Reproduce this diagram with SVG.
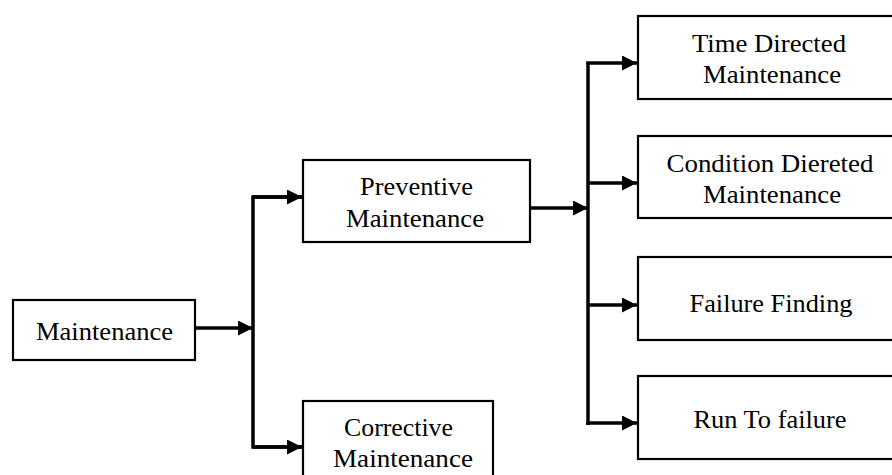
<svg xmlns="http://www.w3.org/2000/svg" width="892" height="475" viewBox="0 0 892 475">
<defs>
<style>
.box{fill:#fff;stroke:#000;stroke-width:2.2}
.t{font-family:"Liberation Serif","Times New Roman",serif;font-size:25px;fill:#000;text-anchor:middle}
.c{fill:none;stroke:#000;stroke-width:3.5}
</style>
<marker id="ah" markerWidth="15" markerHeight="15" refX="15" refY="7.5" orient="auto" markerUnits="userSpaceOnUse">
<path d="M0,0 L15,7.5 L0,15 Z" fill="#000"/>
</marker>
</defs>
<rect width="892" height="475" fill="#fff"/>
<g id="connectors">
<line class="c" x1="195" y1="328" x2="253" y2="328" marker-end="url(#ah)"/>
<polyline class="c" points="303,197 253,197 253,447 303,447" fill="none"/>
<line class="c" x1="253" y1="197" x2="302" y2="197" marker-end="url(#ah)"/>
<line class="c" x1="253" y1="447" x2="302" y2="447" marker-end="url(#ah)"/>
<line class="c" x1="530" y1="208" x2="588" y2="208" marker-end="url(#ah)"/>
<line class="c" x1="588" y1="62" x2="588" y2="425"/>
<line class="c" x1="586.3" y1="63" x2="637" y2="63" marker-end="url(#ah)"/>
<line class="c" x1="588" y1="183" x2="637" y2="183" marker-end="url(#ah)"/>
<line class="c" x1="588" y1="305" x2="637" y2="305" marker-end="url(#ah)"/>
<line class="c" x1="586.3" y1="423" x2="637" y2="423" marker-end="url(#ah)"/>
</g>
<g id="maintenance">
<rect class="box" x="13" y="300" width="182" height="60"/>
<text class="t" x="104.5" y="340" textLength="137" lengthAdjust="spacingAndGlyphs">Maintenance</text>
</g>
<g id="preventive">
<rect class="box" x="303" y="160" width="227" height="82"/>
<text class="t" x="416.5" y="195" textLength="113" lengthAdjust="spacingAndGlyphs">Preventive</text>
<text class="t" x="415" y="227" textLength="138" lengthAdjust="spacingAndGlyphs">Maintenance</text>
</g>
<g id="corrective">
<rect class="box" x="303" y="401" width="190" height="90"/>
<text class="t" x="398.5" y="436" textLength="109" lengthAdjust="spacingAndGlyphs">Corrective</text>
<text class="t" x="403" y="467" textLength="140" lengthAdjust="spacingAndGlyphs">Maintenance</text>
</g>
<g id="time-directed">
<rect class="box" x="638" y="16" width="266" height="83"/>
<text class="t" x="769" y="52" textLength="154" lengthAdjust="spacingAndGlyphs">Time Directed</text>
<text class="t" x="772" y="83" textLength="138" lengthAdjust="spacingAndGlyphs">Maintenance</text>
</g>
<g id="condition-directed">
<rect class="box" x="638" y="136" width="266" height="82"/>
<text class="t" x="770" y="172" textLength="207" lengthAdjust="spacingAndGlyphs">Condition  Diereted</text>
<text class="t" x="772" y="203" textLength="138" lengthAdjust="spacingAndGlyphs">Maintenance</text>
</g>
<g id="failure-finding">
<rect class="box" x="638" y="257" width="266" height="83"/>
<text class="t" x="771" y="312" textLength="163" lengthAdjust="spacingAndGlyphs">Failure Finding</text>
</g>
<g id="run-to-failure">
<rect class="box" x="638" y="376" width="266" height="83"/>
<text class="t" x="770" y="428" textLength="153" lengthAdjust="spacingAndGlyphs">Run To failure</text>
</g>
</svg>
